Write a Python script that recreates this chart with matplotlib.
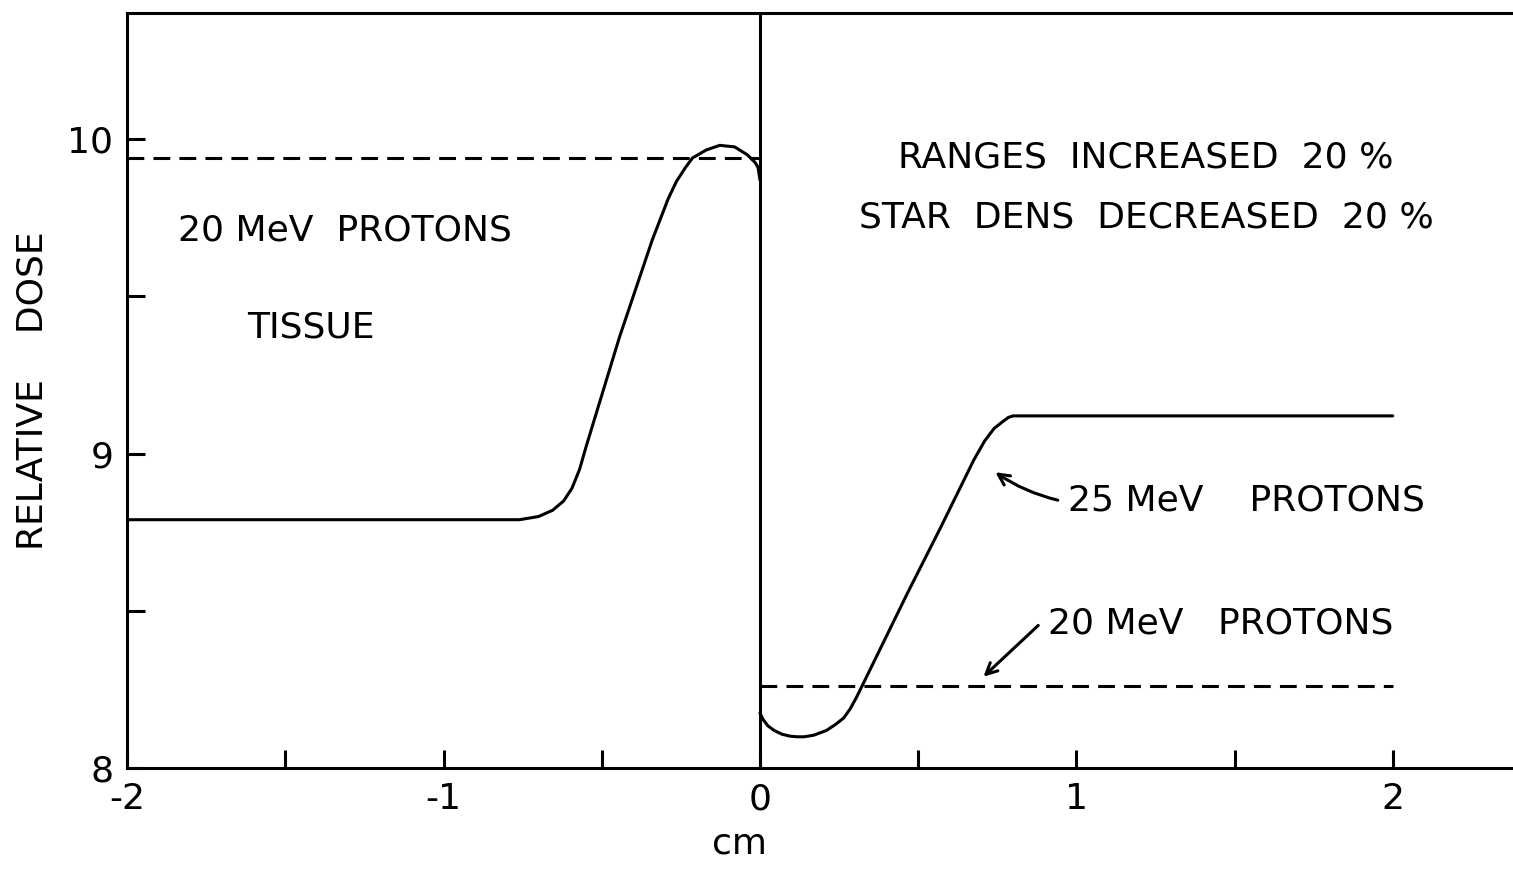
import numpy as np
import matplotlib.pyplot as plt

# Curva izquierda (tejido, 20 MeV)
x_left = [-2.0, -0.76, -0.70, -0.655, -0.62, -0.594, -0.57, -0.55, -0.444, -0.34,
          -0.29, -0.264, -0.235, -0.213, -0.17, -0.127, -0.08, -0.04, -0.015, -0.006, 0.0]
y_left = [8.79, 8.79, 8.80, 8.82, 8.85, 8.89, 8.95, 9.02, 9.37, 9.68,
          9.81, 9.865, 9.91, 9.94, 9.965, 9.98, 9.975, 9.95, 9.925, 9.91, 9.87]

# Curva derecha (25 MeV, rangos +20%)
x_right = [0.0, 0.01, 0.025, 0.045, 0.07, 0.095, 0.117, 0.14, 0.17, 0.21, 0.24,
           0.265, 0.286, 0.305, 0.327, 0.466, 0.571, 0.676, 0.71, 0.74, 0.765,
           0.785, 0.80, 2.0]
y_right = [8.175, 8.155, 8.135, 8.12, 8.108, 8.102, 8.10, 8.10, 8.105, 8.12, 8.14,
           8.16, 8.19, 8.225, 8.27, 8.556, 8.765, 8.98, 9.04, 9.08, 9.10,
           9.115, 9.12, 9.12]

# Niveles de referencia (20 MeV, discontinuas)
x_dash_left = [-2.0, 0.0]
y_dash_left = [9.94, 9.94]
x_dash_right = [0.0, 2.0]
y_dash_right = [8.26, 8.26]

xticks_major = [-2, -1, 0, 1, 2]
xtick_labels = ['-2', '-1', '0', '1', '2']
yticks_major = [8, 9, 10]
ytick_labels = ['8', '9', '10']

fig = plt.figure(figsize=(15.13, 8.8), dpi=100)
ax = fig.add_axes([0.084, 0.127, 0.916, 0.858])

lw = 2.2
ax.plot(x_left, y_left, color='black', lw=lw, solid_capstyle='round', solid_joinstyle='round')
ax.plot(x_right, y_right, color='black', lw=lw, solid_capstyle='round', solid_joinstyle='round')
ax.plot(x_dash_left, y_dash_left, color='black', lw=lw, linestyle=(0, (5.5, 3)))
ax.plot(x_dash_right, y_dash_right, color='black', lw=lw, linestyle=(0, (5.5, 3)))
ax.axvline(0, color='black', lw=lw)

ax.set_xlim(-2, 2.38)
ax.set_ylim(8, 10.4)

ax.set_xticks(xticks_major)
ax.set_xticklabels(xtick_labels)
ax.set_xticks(np.arange(-2, 2.01, 0.5), minor=True)
ax.set_yticks(yticks_major)
ax.set_yticklabels(ytick_labels)
ax.set_yticks(np.arange(8, 10.01, 0.5), minor=True)
ax.tick_params(which='both', direction='in', length=13, width=lw, labelsize=26, pad=10)

for side in ['left', 'bottom', 'top']:
    ax.spines[side].set_linewidth(lw)
ax.spines['right'].set_visible(False)

ax.set_xlabel('cm', fontsize=26)
ax.xaxis.set_label_coords(0.442, -0.077)
ax.set_ylabel('RELATIVE    DOSE', fontsize=26)
ax.yaxis.set_label_coords(-0.056, 0.5)

# Textos
fs = 26
ax.text(-1.84, 9.71, '20 MeV  PROTONS', fontsize=fs, va='center', ha='left')
ax.text(-1.62, 9.40, 'TISSUE', fontsize=fs, va='center', ha='left')
ax.text(1.22, 9.94, 'RANGES  INCREASED  20 %', fontsize=fs, va='center', ha='center')
ax.text(1.22, 9.75, 'STAR  DENS  DECREASED  20 %', fontsize=fs, va='center', ha='center')
ax.text(0.975, 8.85, '25 MeV    PROTONS', fontsize=fs, va='center', ha='left')
ax.text(0.91, 8.46, '20 MeV   PROTONS', fontsize=fs, va='center', ha='left')

# Flechas
ax.annotate('', xy=(0.737, 8.946), xytext=(0.95, 8.85),
            arrowprops=dict(arrowstyle='->,head_length=0.8,head_width=0.4',
                            color='black', lw=lw, connectionstyle='arc3,rad=-0.1'))
ax.annotate('', xy=(0.70, 8.285), xytext=(0.886, 8.46),
            arrowprops=dict(arrowstyle='->,head_length=0.8,head_width=0.4',
                            color='black', lw=lw))

fig.savefig('out.png', dpi=100)
